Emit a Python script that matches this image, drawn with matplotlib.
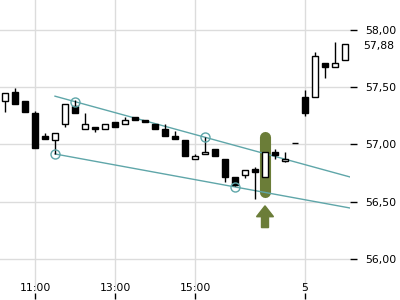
import matplotlib
matplotlib.use("Agg")
import matplotlib.pyplot as plt
from matplotlib.patches import Rectangle, FancyArrow
import matplotlib.transforms as mtransforms

# OHLC data (15-minute candles)
opens = [57.38, 57.456, 57.38, 57.273, 57.072, 57.037, 57.176, 57.336, 57.133, 57.15,
         57.135, 57.194, 57.179, 57.238, 57.211, 57.182, 57.133, 57.072, 57.037, 56.871,
         56.913, 56.96, 56.873, 56.714, 56.734, 56.786, 56.714, 56.937, 56.853, 57.01,
         57.412, 57.412, 57.709, 57.674, 57.735]
highs = [57.45, 57.49, 57.38, 57.29, 57.103, 57.098, 57.351, 57.39, 57.273, 57.15,
         57.176, 57.194, 57.238, 57.238, 57.211, 57.182, 57.179, 57.12, 57.037, 56.914,
         57.063, 56.96, 56.873, 56.714, 56.775, 56.80, 56.932, 56.96, 56.937, 57.01,
         57.476, 57.811, 57.709, 57.898, 57.878]
lows = [57.28, 57.35, 57.287, 56.972, 57.051, 56.917, 57.155, 57.273, 57.133, 57.107,
        57.135, 57.15, 57.179, 57.211, 57.194, 57.133, 57.072, 57.051, 56.897, 56.871,
        56.913, 56.897, 56.675, 56.64, 56.705, 56.524, 56.714, 56.876, 56.845, 57.01,
        57.249, 57.412, 57.578, 57.674, 57.735]
closes = [57.45, 57.35, 57.287, 56.972, 57.051, 57.098, 57.351, 57.273, 57.176, 57.133,
          57.176, 57.15, 57.211, 57.211, 57.194, 57.133, 57.072, 57.051, 56.897, 56.897,
          56.934, 56.897, 56.714, 56.646, 56.775, 56.757, 56.932, 56.908, 56.873, 57.01,
          57.272, 57.773, 57.674, 57.709, 57.878]

x_tick_pos = [3, 11, 19, 30]
x_tick_labels = ["11:00", "13:00", "15:00", "5"]
y_ticks = [56.0, 56.5, 57.0, 57.5, 58.0]
y_tick_labels = ["56,00", "56,50", "57,00", "57,50", "58,00"]
last_price_label = "57,88"

# Trend channel pivots (index, price)
upper_pivots = [(7, 57.374), (20, 57.063)]
lower_pivots = [(5, 56.917), (23, 56.629)]
channel_start = 5
highlight_idx = 26

TEAL = "#5fa6a9"
OLIVE = "#6b7d38"

fig = plt.figure(figsize=(4, 3), dpi=100)
ax = fig.add_axes([0.0, 0.03, 0.875, 0.97])
xmin, xmax = -0.5, 34.5
ax.set_xlim(xmin, xmax)
ax.set_ylim(55.72, 58.262)

ax.grid(True, color="#dcdcdc", linewidth=1)
ax.set_axisbelow(True)
for s in ax.spines.values():
    s.set_visible(False)

# highlight bar behind candle
hx = highlight_idx
h_top = max(opens[hx], closes[hx]) + 0.13
h_bot = min(opens[hx], closes[hx]) - 0.13
ax.plot([hx, hx], [h_bot, h_top], color=OLIVE, lw=8.0, solid_capstyle="round", zorder=2)

# arrow below
ax.add_patch(FancyArrow(hx, h_bot - 0.31, 0, 0.19, width=0.7, head_width=1.7,
                        head_length=0.095, length_includes_head=True,
                        color=OLIVE, zorder=2))

# trend lines
def line_through(p, xs):
    (x1, y1), (x2, y2) = p
    slope = (y2 - y1) / (x2 - x1)
    return [y1 + slope * (x - x1) for x in xs]

xs = [channel_start, xmax + 1]
ax.plot(xs, line_through(upper_pivots, xs), color=TEAL, lw=1, zorder=2)
ax.plot(xs, line_through(lower_pivots, xs), color=TEAL, lw=1, zorder=2)
for px, py in upper_pivots + lower_pivots:
    ax.plot(px, py, "o", ms=6.5, mfc="none", mec=TEAL, mew=1, zorder=5)

# candles
w = 0.68
for i, (o, h, l, c) in enumerate(zip(opens, highs, lows, closes)):
    ax.plot([i, i], [l, h], color="black", lw=1, zorder=3, solid_capstyle="butt")
    up = c >= o
    ax.add_patch(Rectangle((i - w / 2, min(o, c)), w, abs(c - o),
                           facecolor="white" if up else "black",
                           edgecolor="black", lw=1, zorder=4))

ax.set_xticks(x_tick_pos)
ax.set_xticklabels(x_tick_labels, fontsize=7.8)
ax.tick_params(axis="x", length=0, pad=-6)
for lbl in ax.get_xticklabels():
    lbl.set_zorder(6)

ax.yaxis.tick_right()
ax.set_yticks(y_ticks)
ax.set_yticklabels(y_tick_labels, fontsize=7.8)
ax.tick_params(axis="y", length=5, width=1, pad=6, direction="out", color="black")

t = ax.text(1.0, closes[-1], last_price_label, fontsize=7.8, va="center", ha="left")
t.set_transform(ax.get_yaxis_transform() +
                mtransforms.ScaledTranslation(13 / 100, -2 / 100, fig.dpi_scale_trans))

# little tick marks under the x labels
sec = ax.secondary_xaxis(-0.028)
sec.set_xticks(x_tick_pos)
sec.set_xticklabels([])
sec.tick_params(axis="x", direction="in", length=4, width=1)
sec.spines["bottom"].set_visible(False)

fig.savefig("out.png", dpi=100)
